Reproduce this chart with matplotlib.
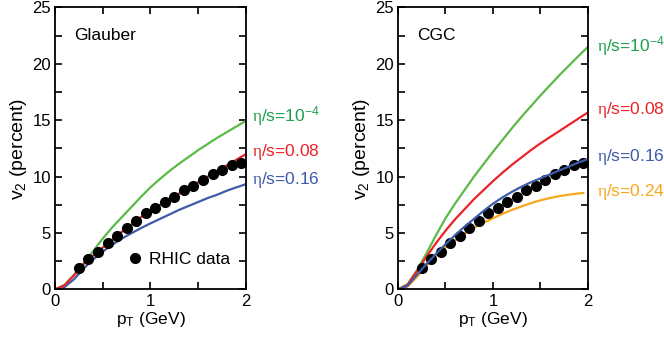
import numpy as np
import matplotlib
matplotlib.use("Agg")
import matplotlib.pyplot as plt
from matplotlib.ticker import MultipleLocator

plt.rcParams['font.family'] = ['Liberation Sans', 'DejaVu Sans']
plt.rcParams['mathtext.fontset'] = 'custom'
plt.rcParams['mathtext.rm'] = 'Liberation Serif'
plt.rcParams['mathtext.sf'] = 'Liberation Sans'
plt.rcParams['mathtext.it'] = 'Liberation Sans'
plt.rcParams['mathtext.default'] = 'regular'

# RHIC data (same in both panels)
pt_data = [0.25, 0.35, 0.45, 0.55, 0.65, 0.75, 0.85, 0.95, 1.05, 1.15,
           1.25, 1.35, 1.45, 1.55, 1.65, 1.75, 1.85, 1.95]
v2_data = [1.86, 2.66, 3.28, 4.08, 4.76, 5.41, 6.09, 6.74, 7.18, 7.74,
           8.2, 8.8, 9.2, 9.66, 10.2, 10.6, 11.0, 11.2]

pt = [0.0, 0.1, 0.2, 0.3, 0.4, 0.5, 0.6, 0.7, 0.8, 0.9, 1.0,
      1.1, 1.2, 1.3, 1.4, 1.5, 1.6, 1.7, 1.8, 1.9, 2.0]

# Glauber curves
glauber_1e4 = [0, 0.4, 1.3, 2.3, 3.4, 4.5, 5.5, 6.4, 7.3, 8.2, 9.05,
               9.8, 10.5, 11.15, 11.75, 12.35, 12.9, 13.45, 13.95, 14.45, 14.95]
glauber_008 = [0, 0.35, 1.25, 2.25, 3.0, 3.7, 4.4, 5.1, 5.75, 6.4, 6.95,
               7.5, 8.0, 8.5, 9.0, 9.5, 10.0, 10.5, 11.0, 11.5, 12.0]
glauber_016 = [0, 0.2, 0.9, 1.85, 2.65, 3.35, 3.95, 4.5, 4.98, 5.43, 5.85,
               6.25, 6.65, 7.05, 7.4, 7.75, 8.1, 8.4, 8.75, 9.05, 9.33]

# CGC curves
cgc_1e4 = [0, 0.45, 1.7, 3.2, 4.8, 6.3, 7.6, 8.8, 10.0, 11.1, 12.2,
           13.25, 14.3, 15.3, 16.25, 17.2, 18.1, 19.0, 19.85, 20.7, 21.5]
cgc_008 = [0, 0.4, 1.6, 2.9, 4.1, 5.2, 6.2, 7.1, 8.0, 8.8, 9.6,
           10.35, 11.05, 11.7, 12.35, 12.95, 13.5, 14.05, 14.6, 15.15, 15.7]
cgc_016 = [0, 0.3, 1.3, 2.25, 3.15, 4.0, 4.8, 5.55, 6.25, 6.95, 7.6,
           8.15, 8.65, 9.1, 9.5, 9.85, 10.2, 10.55, 10.9, 11.25, 11.55]
pt_024 = [0.0, 0.1, 0.2, 0.3, 0.4, 0.5, 0.6, 0.7, 0.8, 0.9, 1.0,
          1.1, 1.2, 1.3, 1.4, 1.5, 1.6, 1.7, 1.8, 1.9, 1.95]
cgc_024 = [0, 0.25, 1.1, 2.1, 2.95, 3.7, 4.35, 4.95, 5.45, 5.9, 6.3,
           6.7, 7.05, 7.35, 7.65, 7.9, 8.1, 8.27, 8.4, 8.5, 8.55]

green = '#5bb947'
red = '#ec2227'
blue = '#3d5ba8'
orange = '#f9a61a'
green_txt = '#1fa04f'

fig = plt.figure(figsize=(6.64, 3.40), dpi=100)
ax1 = fig.add_axes([0.0828, 0.149, 0.2877, 0.829])
ax2 = fig.add_axes([0.5994, 0.149, 0.2861, 0.829])

def style(ax, name):
    ax.set_xlim(0, 2)
    ax.set_ylim(0, 25)
    ax.xaxis.set_major_locator(MultipleLocator(1))
    ax.xaxis.set_minor_locator(MultipleLocator(0.5))
    ax.yaxis.set_major_locator(MultipleLocator(5))
    ax.yaxis.set_minor_locator(MultipleLocator(2.5))
    ax.tick_params(which='both', direction='in', top=True, right=True,
                   labelsize=12, width=1.2, pad=3)
    ax.tick_params(which='major', length=5)
    ax.tick_params(which='minor', length=5)
    for s in ax.spines.values():
        s.set_linewidth(1.3)
    ax.set_xlabel('p$_T$ (GeV)', fontsize=12.5, labelpad=1)
    ax.set_ylabel('v$_2$ (percent)', fontsize=14, labelpad=2)
    ax.text(0.2, 22.5, name, fontsize=12.5, va='center')

lw = 1.6
ax1.plot(pt, glauber_1e4, color=green, lw=lw)
ax1.plot(pt, glauber_016, color=blue, lw=lw)
ax1.plot(pt, glauber_008, color=red, lw=lw)
ax1.plot(pt_data, v2_data, 'o', color='black', ms=7, label='RHIC data')
style(ax1, 'Glauber')
ax1.legend(loc='lower right', bbox_to_anchor=(1.0, 0.025), frameon=False,
           fontsize=12.5, handletextpad=0.1, handlelength=1.5)

ax2.plot(pt, cgc_1e4, color=green, lw=lw)
ax2.plot(pt, cgc_008, color=red, lw=lw)
ax2.plot(pt_024, cgc_024, color=orange, lw=lw)
ax2.plot(pt_data, v2_data, 'o', color='black', ms=7)
ax2.plot(pt, cgc_016, color=blue, lw=lw)
style(ax2, 'CGC')

lab_1e4 = r'$\mathrm{\eta}$/s=10$^{\mathsf{-4}}$'
lab_008 = r'$\mathrm{\eta}$/s=0.08'
lab_016 = r'$\mathrm{\eta}$/s=0.16'
lab_024 = r'$\mathrm{\eta}$/s=0.24'

fs = 12.5
ax1.text(2.06, 15.4, lab_1e4, color=green_txt, fontsize=fs, va='center', clip_on=False)
ax1.text(2.06, 12.2, lab_008, color=red, fontsize=fs, va='center', clip_on=False)
ax1.text(2.06, 9.7, lab_016, color=blue, fontsize=fs, va='center', clip_on=False)

ax2.text(2.09, 21.6, lab_1e4, color=green_txt, fontsize=fs, va='center', clip_on=False)
ax2.text(2.09, 15.9, lab_008, color=red, fontsize=fs, va='center', clip_on=False)
ax2.text(2.09, 11.75, lab_016, color=blue, fontsize=fs, va='center', clip_on=False)
ax2.text(2.09, 8.65, lab_024, color=orange, fontsize=fs, va='center', clip_on=False)

fig.savefig('out.png', dpi=100)
